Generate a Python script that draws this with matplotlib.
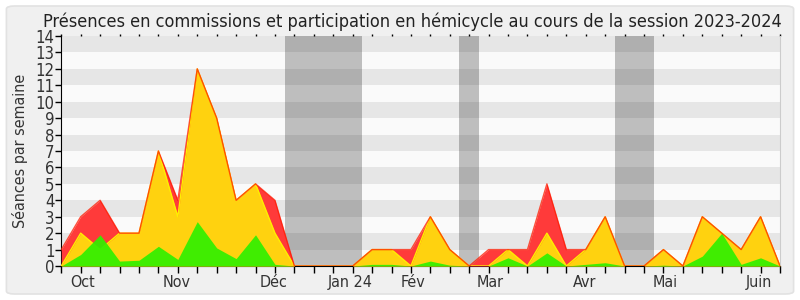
import os
import numpy as np
import matplotlib
matplotlib.use("Agg")
import matplotlib.pyplot as plt
from matplotlib import font_manager
from matplotlib.font_manager import FontProperties
from matplotlib.patches import FancyBboxPatch

# weekly values, session 2023-2024 (one point per week)
presence_hemicycle = [1, 3, 4, 2, 2, 7, 4, 12, 9, 4, 5, 4, 0, 0, 0, 0, 1, 1, 1, 3,
                      1, 0, 1, 1, 1, 5, 1, 1, 3, 0, 0, 1, 0, 3, 2, 1, 3, 0]
presence_commission = [0, 2, 1, 2, 2, 7, 3, 12, 9, 4, 5, 2, 0, 0, 0, 0, 1, 1, 0, 3,
                       1, 0, 0, 1, 0, 2, 0, 1, 3, 0, 0, 1, 0, 3, 2, 1, 3, 0]
participation = [0, 0.7, 1.9, 0.3, 0.35, 1.2, 0.4, 2.7, 1.1, 0.45, 1.9, 0.1, 0, 0, 0, 0,
                 0.1, 0.1, 0, 0.3, 0.05, 0, 0, 0.5, 0, 0.8, 0, 0.1, 0.2, 0, 0, 0.05,
                 0, 0.6, 2.0, 0.1, 0.5, 0]
vacances = [(11.5, 15.5), (20.5, 21.5), (28.5, 30.5)]
mois = ["Oct", "Nov", "Déc", "Jan 24", "Fév", "Mar", "Avr", "Mai", "Juin"]
mois_pos = [1.1, 5.95, 10.95, 14.86, 18.1, 22.07, 26.95, 31.1, 35.9]

# condensed font if there is one, the reference uses a narrow sans
condensed = None
for f in font_manager.fontManager.ttflist:
    if os.path.basename(f.fname) == "DejaVuSansCondensed.ttf":
        condensed = f.fname
        break
if condensed is None:
    for f in font_manager.fontManager.ttflist:
        if f.name == "Liberation Sans Narrow" and f.style == "normal" and f.weight == 400:
            condensed = f.fname
            break
scale = 1.0 if condensed else 0.88


def police(size):
    if condensed:
        return FontProperties(fname=condensed, size=size)
    return FontProperties(family="DejaVu Sans", size=size * scale)


semaines = np.arange(len(presence_hemicycle))

fig = plt.figure(figsize=(8, 3), dpi=100, facecolor="white")
fig.patches.append(FancyBboxPatch((0.008, 0.02), 0.984, 0.96, boxstyle="round,pad=0,rounding_size=0.01",
                                  transform=fig.transFigure, facecolor="#f0f0f0", edgecolor="#e2e2e2",
                                  linewidth=1.2, zorder=-10))
ax = fig.add_axes([0.0766, 0.1133, 0.8984, 0.7667])
ax.set_facecolor("#fafafa")

for a, b in vacances:
    ax.axvspan(a, b, color="#bebebe", lw=0, zorder=1)
for y in range(1, 14, 2):
    ax.axhspan(y, y + 1, color="black", alpha=0.08, lw=0, zorder=2)

ax.fill_between(semaines, presence_hemicycle, color="#ff3a3a", lw=0, zorder=3)
ax.fill_between(semaines, presence_commission, color="#ffd20f", lw=0, zorder=4)
ax.plot(semaines, presence_commission, color="#ffee00", lw=1, zorder=5)
ax.fill_between(semaines, participation, color="#30f000", alpha=0.92, lw=0, zorder=6)
ax.plot(semaines, presence_hemicycle, color="#ff1a00", lw=1, alpha=0.75, zorder=7)

ax.set_xlim(0, 37)
ax.set_ylim(0, 14)
ax.set_yticks(range(15))
ax.set_yticklabels([str(v) for v in range(15)], fontproperties=police(12), color="#333333")
ax.set_xticks(semaines)
ax.set_xticklabels([])
ax.tick_params(axis="x", length=5, width=1, color="black", top=True)
ax.tick_params(axis="y", length=4, width=1, color="black", pad=1)
for t in ax.xaxis.get_major_ticks():
    t.tick2line.set_markersize(1.5)
for p, m in zip(mois_pos, mois):
    ax.text(p, -0.55, m, ha="center", va="top", fontproperties=police(11.5), color="#333333")

ax.spines["top"].set_visible(False)
ax.spines["right"].set_color("#cccccc")
ax.spines["left"].set_color("black")
ax.spines["bottom"].set_color("black")

ax.set_ylabel("Séances par semaine", fontproperties=police(11.5), color="#333333", labelpad=5)
fig.text(0.516, 0.911, "Présences en commissions et participation en hémicycle au cours de la session 2023-2024",
         ha="center", va="baseline", fontproperties=police(13), color="#222222")

fig.savefig("out.png", dpi=100, facecolor=fig.get_facecolor())
